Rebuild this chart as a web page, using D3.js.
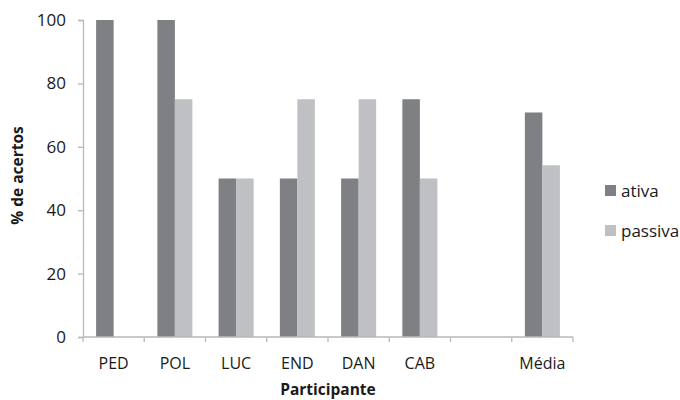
<!DOCTYPE html>
<html>
<head>
<meta charset="utf-8">
<script src="https://cdn.jsdelivr.net/npm/d3@7"></script>
<style>
  html, body { margin: 0; padding: 0; background: #fff; }
  svg { display: block; font-family: "Open Sans", sans-serif; }
</style>
</head>
<body>
<svg id="chart" width="680" height="400"></svg>
<script>
// Participants (one blank slot separates individuals from the mean)
const categories = ["PED", "POL", "LUC", "END", "DAN", "CAB", "", "Média"];
const seriesNames = ["ativa", "passiva"];
const ativa   = [100, 100, 50, 50, 50, 75, null, 70.83];
const passiva = [0,   75,  50, 75, 75, 50, null, 54.17];
const yTicks  = [0, 20, 40, 60, 80, 100];

const colors = { ativa: "#7f8084", passiva: "#bfc0c4" };

const svg = d3.select("#chart");
const margin = { left: 83, right: 107, top: 20, bottom: 63 };
const W = 680, H = 400;
const plotW = W - margin.left - margin.right;
const plotH = H - margin.top - margin.bottom;

const x0 = d3.scaleBand().domain(categories.map((c, i) => i)).range([0, plotW]).padding(0);
const x1 = d3.scaleBand().domain(seriesNames)
  .range([x0.bandwidth() * 0.214, x0.bandwidth() * 0.786]).padding(0);
const y = d3.scaleLinear().domain([0, 100]).range([plotH, 0]);

const g = svg.append("g").attr("transform", `translate(${margin.left},${margin.top})`);

// Bars
const rows = categories.map((c, i) => ({ i, ativa: ativa[i], passiva: passiva[i] }));
const groups = g.selectAll(".grp").data(rows).join("g")
  .attr("transform", d => `translate(${x0(d.i)},0)`);
groups.selectAll("rect")
  .data(d => seriesNames.map(k => ({ k, v: d[k] })).filter(e => e.v != null && e.v > 0))
  .join("rect")
  .attr("x", d => x1(d.k))
  .attr("width", x1.bandwidth())
  .attr("y", d => y(d.v))
  .attr("height", d => y(0) - y(d.v))
  .attr("fill", d => colors[d.k]);

// Y axis
const yAxis = g.append("g").call(
  d3.axisLeft(y).tickValues(yTicks).tickSize(5).tickPadding(12).tickFormat(d3.format("d"))
);
yAxis.selectAll("text").attr("font-size", 17).attr("fill", "#1a1a1a")
  .attr("font-family", "Open Sans, sans-serif");

// X axis with ticks on band boundaries
const xAxisG = g.append("g").attr("transform", `translate(0,${plotH})`);
xAxisG.append("line").attr("x1", 0).attr("x2", plotW).attr("y1", 0).attr("y2", 0);
const bounds = d3.range(categories.length + 1).map(i => i * x0.step());
xAxisG.selectAll(".xt").data(bounds).join("line")
  .attr("x1", d => d).attr("x2", d => d).attr("y1", 0).attr("y2", 5);
xAxisG.selectAll(".xl").data(rows).join("text")
  .attr("x", d => x0(d.i) + x0.bandwidth() / 2)
  .attr("y", 32)
  .attr("text-anchor", "middle")
  .attr("font-size", 16)
  .attr("fill", "#1a1a1a")
  .text(d => categories[d.i]);

g.selectAll(".domain, .tick line, line").attr("stroke", "#b8b8b8").attr("stroke-width", 1.3);

// Axis titles
svg.append("text")
  .attr("transform", `translate(23,${margin.top + plotH / 2 - 3}) rotate(-90)`)
  .attr("text-anchor", "middle")
  .attr("font-size", 15.5).attr("font-weight", "bold").attr("fill", "#1a1a1a")
  .text("% de acertos");
svg.append("text")
  .attr("x", margin.left + plotW / 2).attr("y", 395)
  .attr("text-anchor", "middle")
  .attr("font-size", 15.5).attr("font-weight", "bold").attr("fill", "#1a1a1a")
  .text("Participante");

// Legend
const legend = svg.append("g").attr("transform", "translate(605,0)");
seriesNames.forEach((k, i) => {
  const ly = 197 + i * 40;
  legend.append("rect").attr("x", 0).attr("y", ly - 12).attr("width", 11).attr("height", 11)
    .attr("fill", colors[k]);
  legend.append("text").attr("x", 16).attr("y", ly).attr("font-size", 17).attr("fill", "#1a1a1a")
    .text(k);
});
</script>
</body>
</html>
